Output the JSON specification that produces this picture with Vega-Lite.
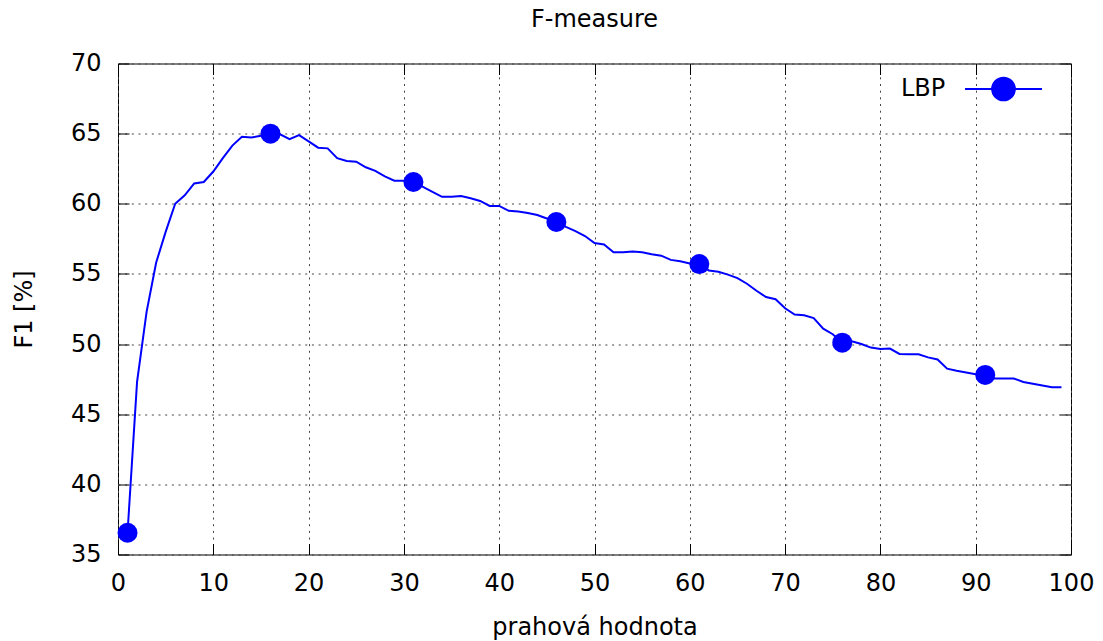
{
  "$schema": "https://vega.github.io/schema/vega-lite/v6.json",
  "width": 953,
  "height": 491,
  "autosize": {"type": "none"},
  "padding": {"left": 118, "top": 63.5, "right": 32, "bottom": 86.5},
  "background": "white",
  "title": {"text": "F-measure", "fontSize": 24, "font": "DejaVu Sans", "fontWeight": "normal", "color": "#000", "offset": 18, "anchor": "middle"},
  "data": {"values": [
    {"x": 1, "y": 36.55}, {"x": 2, "y": 47.3}, {"x": 3, "y": 52.3}, {"x": 4, "y": 55.8}, {"x": 5, "y": 58.0},
    {"x": 6, "y": 60.0}, {"x": 7, "y": 60.6}, {"x": 8, "y": 61.45}, {"x": 9, "y": 61.55}, {"x": 10, "y": 62.3},
    {"x": 11, "y": 63.25}, {"x": 12, "y": 64.15}, {"x": 13, "y": 64.78}, {"x": 14, "y": 64.72}, {"x": 15, "y": 64.85},
    {"x": 16, "y": 65.0}, {"x": 17, "y": 64.95}, {"x": 18, "y": 64.6}, {"x": 19, "y": 64.9}, {"x": 20, "y": 64.45},
    {"x": 21, "y": 64.0}, {"x": 22, "y": 63.95}, {"x": 23, "y": 63.25}, {"x": 24, "y": 63.05}, {"x": 25, "y": 63.0},
    {"x": 26, "y": 62.6}, {"x": 27, "y": 62.35}, {"x": 28, "y": 61.95}, {"x": 29, "y": 61.65}, {"x": 30, "y": 61.65},
    {"x": 31, "y": 61.55}, {"x": 32, "y": 61.2}, {"x": 33, "y": 60.85}, {"x": 34, "y": 60.5}, {"x": 35, "y": 60.5},
    {"x": 36, "y": 60.55}, {"x": 37, "y": 60.4}, {"x": 38, "y": 60.2}, {"x": 39, "y": 59.85}, {"x": 40, "y": 59.85},
    {"x": 41, "y": 59.5}, {"x": 42, "y": 59.45}, {"x": 43, "y": 59.35}, {"x": 44, "y": 59.2}, {"x": 45, "y": 58.95},
    {"x": 46, "y": 58.7}, {"x": 47, "y": 58.35}, {"x": 48, "y": 58.05}, {"x": 49, "y": 57.7}, {"x": 50, "y": 57.2},
    {"x": 51, "y": 57.1}, {"x": 52, "y": 56.55}, {"x": 53, "y": 56.55}, {"x": 54, "y": 56.6}, {"x": 55, "y": 56.55},
    {"x": 56, "y": 56.4}, {"x": 57, "y": 56.3}, {"x": 58, "y": 56.0}, {"x": 59, "y": 55.9}, {"x": 60, "y": 55.75},
    {"x": 61, "y": 55.7}, {"x": 62, "y": 55.25}, {"x": 63, "y": 55.15}, {"x": 64, "y": 54.95}, {"x": 65, "y": 54.7},
    {"x": 66, "y": 54.3}, {"x": 67, "y": 53.8}, {"x": 68, "y": 53.35}, {"x": 69, "y": 53.2}, {"x": 70, "y": 52.55},
    {"x": 71, "y": 52.1}, {"x": 72, "y": 52.05}, {"x": 73, "y": 51.85}, {"x": 74, "y": 51.1}, {"x": 75, "y": 50.7},
    {"x": 76, "y": 50.1}, {"x": 77, "y": 50.2}, {"x": 78, "y": 50.0}, {"x": 79, "y": 49.75}, {"x": 80, "y": 49.65},
    {"x": 81, "y": 49.68}, {"x": 82, "y": 49.3}, {"x": 83, "y": 49.28}, {"x": 84, "y": 49.27}, {"x": 85, "y": 49.05},
    {"x": 86, "y": 48.9}, {"x": 87, "y": 48.25}, {"x": 88, "y": 48.1}, {"x": 89, "y": 47.97}, {"x": 90, "y": 47.85},
    {"x": 91, "y": 47.8}, {"x": 92, "y": 47.55}, {"x": 93, "y": 47.55}, {"x": 94, "y": 47.55}, {"x": 95, "y": 47.3},
    {"x": 96, "y": 47.17}, {"x": 97, "y": 47.05}, {"x": 98, "y": 46.93}, {"x": 99, "y": 46.93}
  ]},
  "layer": [
    {
      "mark": {"type": "line", "color": "#0000ff", "strokeWidth": 2},
      "encoding": {
        "x": {"field": "x", "type": "quantitative", "scale": {"domain": [0, 100], "nice": false},
          "axis": {"orient": "bottom", "values": [0,10,20,30,40,50,60,70,80,90,100], "title": "prahová hodnota", "grid": true, "labelPadding": 28, "titlePadding": 20}},
        "y": {"field": "y", "type": "quantitative", "scale": {"domain": [35, 70], "nice": false, "zero": false},
          "axis": {"orient": "left", "values": [35,40,45,50,55,60,65,70], "title": "F1 [%]", "grid": true, "labelPadding": 28, "titlePadding": 34}}
      }
    },
    {
      "transform": [{"filter": "datum.x % 15 == 1"}],
      "mark": {"type": "point", "filled": true, "size": 400, "opacity": 1},
      "encoding": {
        "x": {"field": "x", "type": "quantitative", "scale": {"domain": [0, 100], "nice": false},
          "axis": {"orient": "top", "values": [0,10,20,30,40,50,60,70,80,90,100], "title": null, "labels": false, "grid": false}},
        "y": {"field": "y", "type": "quantitative", "scale": {"domain": [35, 70], "nice": false, "zero": false},
          "axis": {"orient": "right", "values": [35,40,45,50,55,60,65,70], "title": null, "labels": false, "grid": false}},
        "color": {"datum": "LBP", "scale": {"range": ["#0000ff"]},
          "legend": {"title": "LBP", "titleOrient": "left", "orient": "none", "legendX": 783, "legendY": -14,
            "labelExpr": "''", "symbolType": "M-1,0L1,0M-0.295,0A0.295,0.295,0,1,1,0.295,0A0.295,0.295,0,1,1,-0.295,0Z",
            "symbolSize": 5929, "symbolStrokeColor": "#0000ff", "symbolStrokeWidth": 2, "symbolFillColor": "#0000ff", "symbolOpacity": 1,
            "titleFontSize": 24, "titleFont": "DejaVu Sans", "titleFontWeight": "normal", "titleColor": "#000", "titlePadding": 18, "padding": 0,
            "titleBaseline": "top", "titleAnchor": "middle"}}
      }
    }
  ],
  "resolve": {"axis": {"x": "independent", "y": "independent"}},
  "config": {
    "font": "DejaVu Sans",
    "view": {"stroke": "#000", "strokeWidth": 1},
    "axis": {
      "domain": false, "tickSize": -11, "tickColor": "#000", "tickWidth": 1,
      "labelFont": "DejaVu Sans", "labelFontSize": 24, "labelColor": "#000", "labelFlush": false, "labelOverlap": false,
      "titleFont": "DejaVu Sans", "titleFontSize": 24, "titleFontWeight": "normal", "titleColor": "#000",
      "gridColor": "#444", "gridDash": [2, 4.67], "gridWidth": 1, "gridOpacity": 1
    }
  }
}
